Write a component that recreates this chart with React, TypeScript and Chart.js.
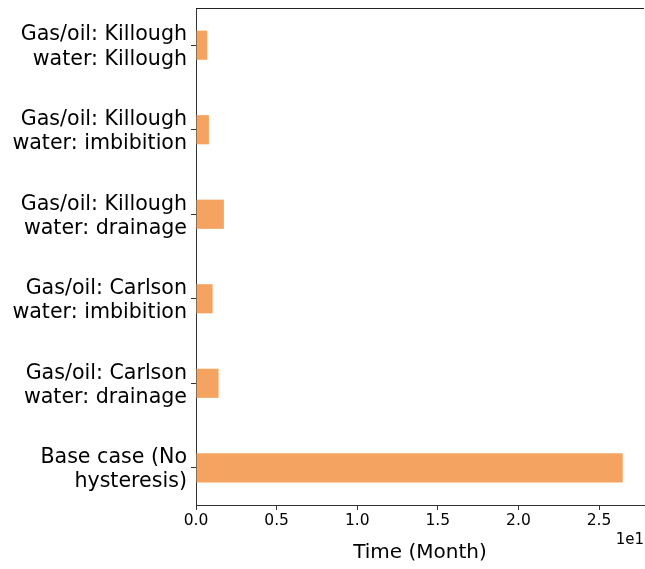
import React, { useEffect, useRef } from "react";
import { Chart, registerables } from "chart.js";

Chart.register(...registerables);

const categoryLabels: string[][] = [
  ["Gas/oil: Killough", "water: Killough"],
  ["Gas/oil: Killough", "water: imbibition"],
  ["Gas/oil: Killough", "water: drainage"],
  ["Gas/oil: Carlson", "water: imbibition"],
  ["Gas/oil: Carlson", "water: drainage"],
  ["Base case (No", "hysteresis)"],
];
const timeMonths: number[] = [0.7, 0.8, 1.73, 1.03, 1.4, 26.47];
const xTickValues: number[] = [0, 5, 10, 15, 20, 25];
const xAxisTitle = "Time (Month)";
const offsetText = "1e1";

const FONT = "'DejaVu Sans', sans-serif";

export default function App() {
  const ref = useRef<HTMLCanvasElement | null>(null);
  useEffect(() => {
    if (!ref.current) return;
    const extras = {
      id: "extras",
      afterDraw(chart: any) {
        const ctx = chart.ctx;
        const a = chart.chartArea;
        ctx.save();
        ctx.strokeStyle = "#222";
        ctx.lineWidth = 1;
        ctx.beginPath();
        ctx.moveTo(a.left, a.top + 0.5);
        ctx.lineTo(a.right, a.top + 0.5);
        ctx.stroke();
        ctx.fillStyle = "#000";
        ctx.font = `20px ${FONT}`;
        ctx.textAlign = "center";
        ctx.textBaseline = "middle";
        ctx.fillText(xAxisTitle, (a.left + a.right) / 2, 553);
        ctx.font = `15px ${FONT}`;
        ctx.textAlign = "right";
        ctx.fillText(offsetText, 644, 540);
        ctx.restore();
      },
    };
    const chart = new Chart(ref.current, {
      type: "bar",
      data: {
        datasets: [
          {
            data: timeMonths.map((v, i) => ({ x: v, y: i })),
            backgroundColor: "#F4A460",
            borderWidth: 0,
            categoryPercentage: 1,
            barPercentage: 0.345,
          },
        ],
      },
      options: {
        indexAxis: "y",
        animation: false,
        responsive: false,
        maintainAspectRatio: false,
        layout: { padding: { top: 8, right: 1, left: 0, bottom: 0 } },
        plugins: { legend: { display: false }, tooltip: { enabled: false } },
        scales: {
          x: {
            type: "linear",
            min: 0,
            max: 27.79,
            afterBuildTicks: (s: any) => {
              s.ticks = xTickValues.map((v) => ({ value: v }));
            },
            afterFit: (s: any) => {
              s.height = 64;
              s.paddingLeft = 0;
              s.paddingRight = 0;
            },
            ticks: {
              color: "#000",
              font: { family: FONT, size: 15.5 },
              padding: 2,
              maxRotation: 0,
              autoSkip: false,
              callback: (v: any) => (Number(v) / 10).toFixed(1),
            },
            grid: {
              display: true,
              drawOnChartArea: false,
              drawTicks: true,
              tickLength: 5,
              color: "#333",
            },
            border: { display: true, color: "#333", width: 1 },
          },
          y: {
            type: "linear",
            reverse: true,
            offset: false,
            min: -0.44,
            max: categoryLabels.length - 1 + 0.44,
            afterBuildTicks: (s: any) => {
              s.ticks = categoryLabels.map((_, i) => ({ value: i }));
            },
            afterFit: (s: any) => {
              s.width = 196;
              s.paddingTop = 0;
              s.paddingBottom = 0;
            },
            ticks: {
              color: "#000",
              font: { family: FONT, size: 20.6, lineHeight: 1.17 },
              padding: 4,
              labelOffset: 2,
              autoSkip: false,
              callback: (v: any) => categoryLabels[Number(v)] ?? "",
            },
            grid: {
              display: true,
              offset: false,
              drawOnChartArea: false,
              drawTicks: true,
              tickLength: 5,
              color: "#333",
            },
            border: { display: true, color: "#333", width: 1 },
          },
        },
      },
      plugins: [extras],
    } as any);
    return () => chart.destroy();
  }, []);
  return (
    <div style={{ position: "absolute", left: 0, top: 0, width: 645, height: 569, background: "#fff" }}>
      <canvas ref={ref} width={645} height={569} style={{ width: 645, height: 569 }} />
    </div>
  );
}
